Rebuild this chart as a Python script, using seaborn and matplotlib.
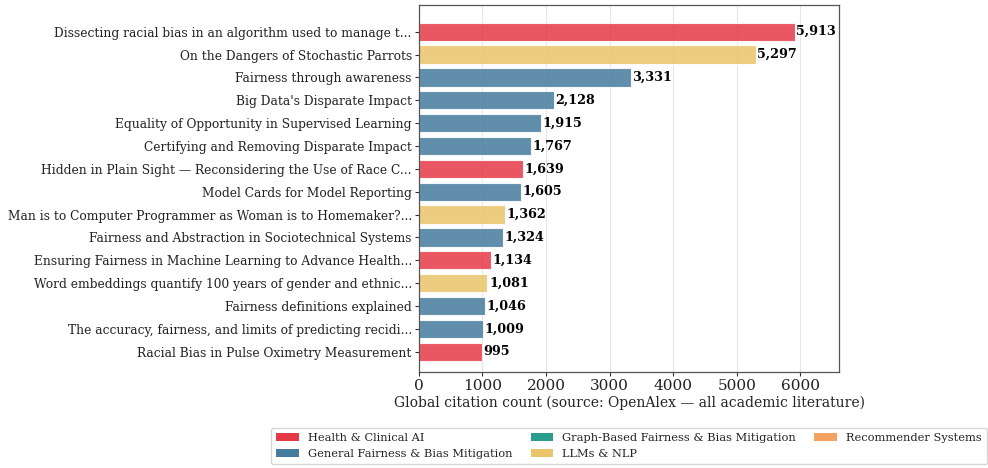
import matplotlib
matplotlib.use("Agg")
import matplotlib.pyplot as plt
import seaborn as sns
import pandas as pd
from matplotlib.patches import Patch

titles = [
    "Dissecting racial bias in an algorithm used to manage t...",
    "On the Dangers of Stochastic Parrots",
    "Fairness through awareness",
    "Big Data's Disparate Impact",
    "Equality of Opportunity in Supervised Learning",
    "Certifying and Removing Disparate Impact",
    "Hidden in Plain Sight \u2014 Reconsidering the Use of Race C...",
    "Model Cards for Model Reporting",
    "Man is to Computer Programmer as Woman is to Homemaker?...",
    "Fairness and Abstraction in Sociotechnical Systems",
    "Ensuring Fairness in Machine Learning to Advance Health...",
    "Word embeddings quantify 100 years of gender and ethnic...",
    "Fairness definitions explained",
    "The accuracy, fairness, and limits of predicting recidi...",
    "Racial Bias in Pulse Oximetry Measurement",
]
citations = [5913, 5297, 3331, 2128, 1915, 1767, 1639, 1605, 1362, 1324, 1134, 1081, 1046, 1009, 995]
topics = [
    "Health & Clinical AI", "LLMs & NLP", "General Fairness & Bias Mitigation",
    "General Fairness & Bias Mitigation", "General Fairness & Bias Mitigation",
    "General Fairness & Bias Mitigation", "Health & Clinical AI",
    "General Fairness & Bias Mitigation", "LLMs & NLP",
    "General Fairness & Bias Mitigation", "Health & Clinical AI", "LLMs & NLP",
    "General Fairness & Bias Mitigation", "General Fairness & Bias Mitigation",
    "Health & Clinical AI",
]
legend_topics = [
    "Health & Clinical AI", "General Fairness & Bias Mitigation",
    "Graph-Based Fairness & Bias Mitigation", "LLMs & NLP", "Recommender Systems",
]
topic_colors = ["#e63946", "#457b9d", "#2a9d8f", "#e9c46a", "#f4a261"]
palette = dict(zip(legend_topics, topic_colors))

df = pd.DataFrame({"title": titles, "citations": citations, "topic": topics})

sns.set_theme(style="whitegrid")
plt.rcParams["font.family"] = ["DejaVu Serif"]
plt.rcParams["text.color"] = "#222222"
plt.rcParams["xtick.color"] = "#222222"
plt.rcParams["ytick.color"] = "#222222"
plt.rcParams["axes.labelcolor"] = "#222222"

fig = plt.figure(figsize=(9.88, 4.68), dpi=100)
ax = fig.add_axes([0.4238, 0.2058, 0.4257, 0.7829])

sns.barplot(data=df, y="title", x="citations", hue="topic", palette=palette,
            dodge=False, legend=False, alpha=0.85, width=0.8, saturation=1,
            edgecolor="white", linewidth=0.8, ax=ax, orient="h")

vmax = max(citations)
for i, v in enumerate(citations):
    ax.text(v + vmax * 0.004, i, f"{v:,}", va="center", ha="left",
            fontsize=9.2, fontweight="bold", color="black")

ax.set_xlim(0, vmax * 1.118)
ax.set_ylim(14.875, -1.155)
ax.set_ylabel("")
ax.set_xlabel("Global citation count (source: OpenAlex \u2014 all academic literature)",
              fontsize=10, labelpad=2)
ax.tick_params(axis="y", labelsize=8.8, length=3, width=0.8, left=True, pad=2, color="#333333")
ax.tick_params(axis="x", labelsize=11, length=3, width=0.8, bottom=True, pad=2, color="#333333")
ax.grid(axis="x", color="#e5e5e5", linewidth=0.8)
ax.grid(axis="y", visible=False)
for s in ax.spines.values():
    s.set_visible(True)
    s.set_color("#555555")
    s.set_linewidth(0.9)

handles = [Patch(facecolor=c, edgecolor="none", label=t) for t, c in zip(legend_topics, topic_colors)]
ax.legend(handles=handles, loc="upper center", bbox_to_anchor=(0.5, -0.137), ncol=3,
          fontsize=8.2, frameon=True, edgecolor="#cccccc", fancybox=True,
          handlelength=2.0, handleheight=0.75, handletextpad=0.8, columnspacing=1.6,
          borderpad=0.45, labelspacing=0.55)

fig.savefig("out.png", dpi=100)
